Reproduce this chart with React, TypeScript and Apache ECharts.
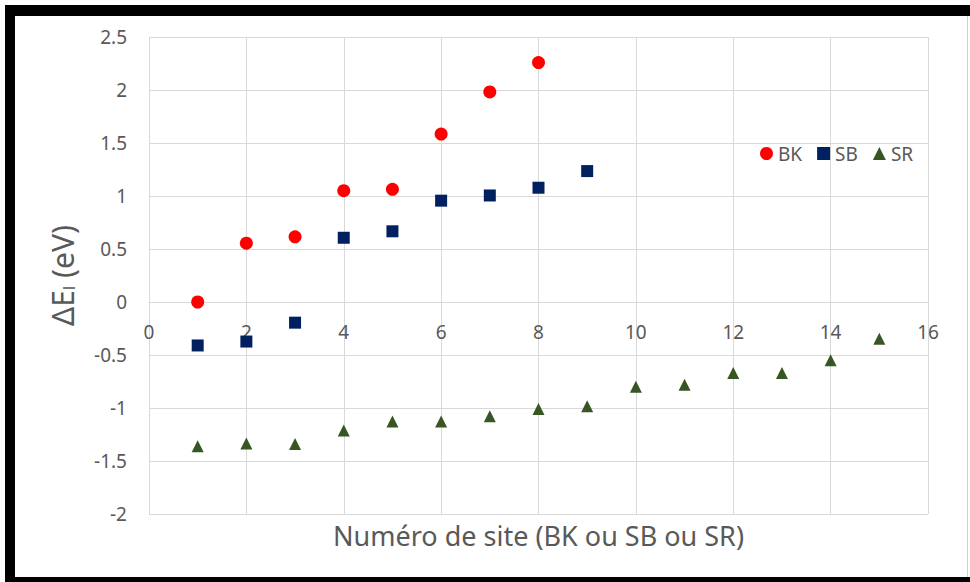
import React, { useEffect, useRef } from "react";
import * as echarts from "echarts";

const bkX = [1, 2, 3, 4, 5, 6, 7, 8];
const bkY = [0.0, 0.555, 0.615, 1.05, 1.063, 1.584, 1.982, 2.259];
const sbX = [1, 2, 3, 4, 5, 6, 7, 8, 9];
const sbY = [-0.41, -0.373, -0.195, 0.606, 0.667, 0.956, 1.005, 1.078, 1.235];
const srX = [1, 2, 3, 4, 5, 6, 7, 8, 9, 10, 11, 12, 13, 14, 15];
const srY = [-1.36, -1.335, -1.34, -1.213, -1.128, -1.128, -1.078, -1.009, -0.984, -0.8, -0.78, -0.67, -0.67, -0.55, -0.347];
const seriesNames = ["BK", "SB", "SR"];
const xTitle = "Numéro de site (BK ou SB ou SR)";

const FONT = "'Noto Sans', 'Open Sans', sans-serif";
const GRAY = "#595959";
const GRID = "#d9d9d9";

const Y_MIN = -2;
const Y_MAX = 2.5;
const GRID_TOP = 37;
const GRID_BOTTOM = 68;
const CHART_H = 582;

function pairs(xs: number[], ys: number[]) {
  return xs.map((x, i) => [x, ys[i]]);
}

export default function App() {
  const ref = useRef<HTMLDivElement>(null);
  useEffect(() => {
    if (!ref.current) return;
    const chart = echarts.init(ref.current, null, { renderer: "svg" });
    const plotH = CHART_H - GRID_TOP - GRID_BOTTOM;
    // shift x axis from the bottom of the grid up to y = 0
    const zeroOffset = -((0 - Y_MIN) / (Y_MAX - Y_MIN)) * plotH;
    chart.setOption({
      animation: false,
      backgroundColor: "#ffffff",
      grid: { left: 149, right: 42, top: GRID_TOP, bottom: GRID_BOTTOM, containLabel: false, outerBoundsMode: "none" },
      legend: {
        left: 755,
        top: 139,
        itemWidth: 13,
        itemHeight: 13,
        itemGap: 15,
        textStyle: { color: GRAY, fontSize: 19, fontFamily: FONT },
        data: seriesNames,
      },
      xAxis: {
        type: "value",
        min: 0,
        max: 16,
        interval: 2,
        position: "bottom",
        offset: zeroOffset,
        axisLine: { show: true, onZero: false, lineStyle: { color: GRID, width: 1 } },
        axisTick: { show: false },
        axisLabel: { color: GRAY, fontSize: 19, fontFamily: FONT, margin: 20 },
        splitLine: { show: true, lineStyle: { color: GRID, width: 1 } },
        name: xTitle,
        nameLocation: "middle",
        nameGap: 220,
        nameTextStyle: { color: GRAY, fontSize: 27, fontFamily: FONT, verticalAlign: "top" },
      },
      yAxis: {
        type: "value",
        min: Y_MIN,
        max: Y_MAX,
        interval: 0.5,
        axisLine: { show: true, lineStyle: { color: GRID, width: 1 } },
        axisTick: { show: false },
        axisLabel: { color: GRAY, fontSize: 19, fontFamily: FONT, margin: 22 },
        splitLine: { show: true, lineStyle: { color: GRID, width: 1 } },
        name: "ΔE{s|l} (eV)",
        nameLocation: "middle",
        nameRotate: 90,
        nameGap: 72,
        nameTextStyle: {
          color: GRAY,
          fontSize: 30,
          fontFamily: FONT,
          rich: {
            s: { fontSize: 17, color: GRAY, fontFamily: FONT, verticalAlign: "bottom", padding: [13, 0, 0, 0] },
          },
        },
      },
      series: [
        {
          name: "BK",
          type: "scatter",
          symbol: "circle",
          symbolSize: 13,
          itemStyle: { color: "#ff0000", opacity: 1 },
          data: pairs(bkX, bkY),
        },
        {
          name: "SB",
          type: "scatter",
          symbol: "rect",
          symbolSize: 12,
          itemStyle: { color: "#002060", opacity: 1 },
          data: pairs(sbX, sbY),
        },
        {
          name: "SR",
          type: "scatter",
          symbol: "triangle",
          symbolSize: [12, 12],
          itemStyle: { color: "#375623", opacity: 1 },
          data: pairs(srX, srY),
        },
      ],
      graphic: [
        { type: "rect", shape: { x: 5, y: 5, width: 10, height: 577 }, style: { fill: "#000" }, silent: true },
        { type: "rect", shape: { x: 5, y: 5, width: 965, height: 11 }, style: { fill: "#000" }, silent: true },
        { type: "rect", shape: { x: 5, y: 577, width: 965, height: 5 }, style: { fill: "#000" }, silent: true },
        { type: "rect", shape: { x: 967, y: 16, width: 1, height: 561 }, style: { fill: "#d0d0d0" }, silent: true },
      ],
    });
    return () => chart.dispose();
  }, []);
  return (
    <div
      ref={ref}
      style={{ position: "absolute", left: 0, top: 0, width: 970, height: 582 }}
    />
  );
}
